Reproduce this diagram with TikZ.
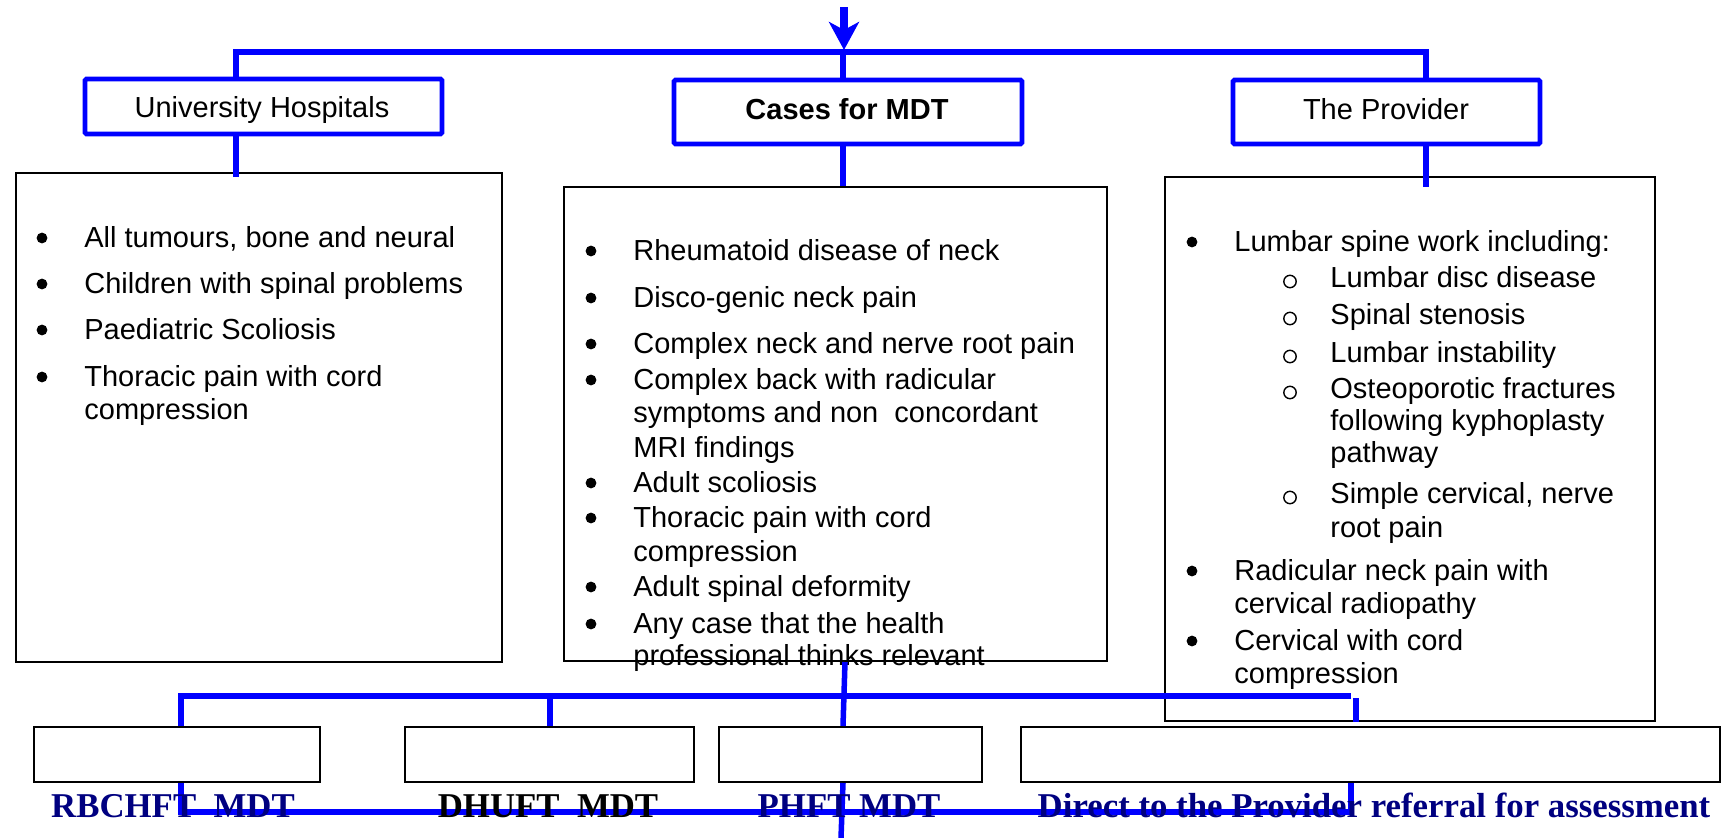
\documentclass[tikz,border=0pt]{standalone}
\usepackage{fontspec}
\setmainfont{Liberation Sans}
\newfontfamily\serifb{Liberation Serif}
\usetikzlibrary{arrows.meta,calc}
\definecolor{lineblue}{RGB}{0,0,255}
\definecolor{navy}{RGB}{0,0,128}
\tikzset{
 conn/.style={draw=lineblue, line width=2.75bp},
 topbox/.style={draw=lineblue, line width=2.4bp, rounded corners=0.8bp, inner sep=0pt},
 listbox/.style={draw=black, line width=0.9bp, inner sep=0pt},
 botbox/.style={draw=black, line width=1bp, inner sep=0pt},
 txt/.style={font=\fontsize{14.5bp}{16.5bp}\selectfont, inner sep=0pt, anchor=base west},
 toplabel/.style={font=\fontsize{14.5bp}{16.5bp}\selectfont, inner sep=0pt, anchor=base},
 botlabel/.style={font=\fontsize{17.4bp}{20bp}\selectfont\serifb\bfseries, inner sep=0pt, anchor=base},
 dotmark/.style={fill=black},
 ringmark/.style={draw=black, line width=0.7bp},
}
\newcommand\lineat[4]{\node[txt] (#1) at (#2,#3) {#4};}
\newcommand\dotat[2]{\fill[dotmark] (#1,#2-9) circle (2.7bp);}
\newcommand\ringat[2]{\draw[ringmark] (#1,#2-5.5) circle (3.1bp);}
\begin{document}
\begin{tikzpicture}[x=0.5bp,y=-0.5bp]
\useasboundingbox (0,0) rectangle (1722,838);
% top boxes
\node[topbox, minimum width=178.5bp, minimum height=27.5bp] (uh) at (263.5,106.5) {};
\node[topbox, minimum width=174bp, minimum height=32bp] (cs) at (848,112) {};
\node[topbox, minimum width=153.5bp, minimum height=32bp] (pv) at (1386.5,112) {};
\node[toplabel] (uht) at (262,117) {University Hospitals};
\node[toplabel] (cst) at (847,119) {\bfseries Cases for MDT};
\node[toplabel] (pvt) at (1386,119) {The Provider};
% list boxes
\node[listbox, minimum width=243bp, minimum height=244.5bp] (lc) at (259,417.5) {};
\node[listbox, minimum width=271.5bp, minimum height=237bp] (mc) at (835.5,424) {};
\node[listbox, minimum width=245bp, minimum height=272bp] (rc) at (1410,449) {};
% left list
\dotat{42}{247}\lineat{l1}{84}{247}{All tumours, bone and neural}
\dotat{42}{293}\lineat{l2}{84}{293}{Children with spinal problems}
\dotat{42}{339}\lineat{l3}{84}{339}{Paediatric Scoliosis}
\dotat{42}{386}\lineat{l4}{84}{386}{Thoracic pain with cord}
\lineat{l5}{84}{419}{compression}
% middle list
\dotat{591}{260}\lineat{m1t}{633}{260}{Rheumatoid disease of neck}
\dotat{591}{307}\lineat{m2t}{633}{307}{Disco-genic neck pain}
\dotat{591}{353}\lineat{m3t}{633}{353}{Complex neck and nerve root pain}
\dotat{591}{389}\lineat{m4t}{633}{389}{Complex back with radicular}
\lineat{m5t}{633}{422}{symptoms and non\ \ concordant}
\lineat{m6t}{633}{457}{MRI findings}
\dotat{591}{492}\lineat{m7t}{633}{492}{Adult scoliosis}
\dotat{591}{527}\lineat{m8t}{633}{527}{Thoracic pain with cord}
\lineat{m9t}{633}{561}{compression}
\dotat{591}{596}\lineat{m10t}{633}{596}{Adult spinal deformity}
\dotat{591}{633}\lineat{m11t}{633}{633}{Any case that the health}
\lineat{m12t}{633}{665}{professional thinks relevant}
% right list
\dotat{1192}{251}\lineat{r1}{1234}{251}{Lumbar spine work including:}
\ringat{1290}{287}\lineat{r2}{1330}{287}{Lumbar disc disease}
\ringat{1290}{324}\lineat{r3}{1330}{324}{Spinal stenosis}
\ringat{1290}{362}\lineat{r4}{1330}{362}{Lumbar instability}
\ringat{1290}{398}\lineat{r5}{1330}{398}{Osteoporotic fractures}
\lineat{r6}{1330}{430}{following kyphoplasty}
\lineat{r7}{1330}{462}{pathway}
\ringat{1290}{503}\lineat{r8}{1330}{503}{Simple cervical, nerve}
\lineat{r9}{1330}{537}{root pain}
\dotat{1192}{580}\lineat{r10}{1234}{580}{Radicular neck pain with}
\lineat{r11}{1234}{613}{cervical radiopathy}
\dotat{1192}{650}\lineat{r12}{1234}{650}{Cervical with cord}
\lineat{r13}{1234}{683}{compression}
% bottom boxes
\node[botbox, minimum width=143bp, minimum height=27.5bp] (b1) at (177,754.5) {};
\node[botbox, minimum width=144.5bp, minimum height=27.5bp] (b2) at (549.5,754.5) {};
\node[botbox, minimum width=131.5bp, minimum height=27.5bp] (b3) at (850.5,754.5) {};
\node[botbox, minimum width=349.5bp, minimum height=27.5bp] (b4) at (1370.5,754.5) {};
% connectors
\coordinate (src) at (844,7);
\coordinate (atip) at (844,50);
\draw[conn, line width=4bp, -{Stealth[length=14bp,width=15bp,inset=4bp]}] (src) -- (atip);
\coordinate (jl) at (236,52);
\coordinate (jr) at (1426,52);
\coordinate (jc) at (843,52);
\draw[conn] (jl |- uh.north) -- (jl) -- (jr) -- (jr |- pv.north);
\draw[conn] (jc) -- (jc |- cs.north);
\coordinate (lcd) at (236,177);
\coordinate (rcd) at (1426,187);
\draw[conn] (jl |- uh.south) -- (lcd);
\draw[conn] (jc |- cs.south) -- (jc |- mc.north);
\draw[conn] (jr |- pv.south) -- (rcd);
\coordinate (ms) at (845,662);
\coordinate (mx) at (843,0);
\coordinate (mend) at (841,838);
\draw[conn] (ms) -- (mx |- b3.north);
\draw[conn] (mx |- b3.south) -- (mend);
\coordinate (h1) at (181,696);
\coordinate (h2) at (1351,696);
\coordinate (h3) at (550,696);
\coordinate (h4) at (1356,698);
\draw[conn] (h1 |- b1.north) -- (h1) -- (h2);
\draw[conn] (h3) -- (h3 |- b2.north);
\draw[conn] (h4) -- (h4 |- rc.south);
\coordinate (g1) at (181,812);
\coordinate (g2) at (1351,812);
\draw[conn] (g1 |- b1.south) -- (g1) -- (g2) -- (g2 |- b4.south);
% bottom labels
\node[botlabel, text=navy] (b1t) at (173,817) {RBCHFT\ \ MDT};
\node[botlabel, text=black] (b2t) at (548,817) {DHUFT\ \ MDT};
\node[botlabel, text=navy] (b3t) at (849,817) {PHFT MDT};
\node[botlabel, text=navy] (b4t) at (1374,817) {Direct to the Provider referral for assessment};
\end{tikzpicture}
\end{document}
